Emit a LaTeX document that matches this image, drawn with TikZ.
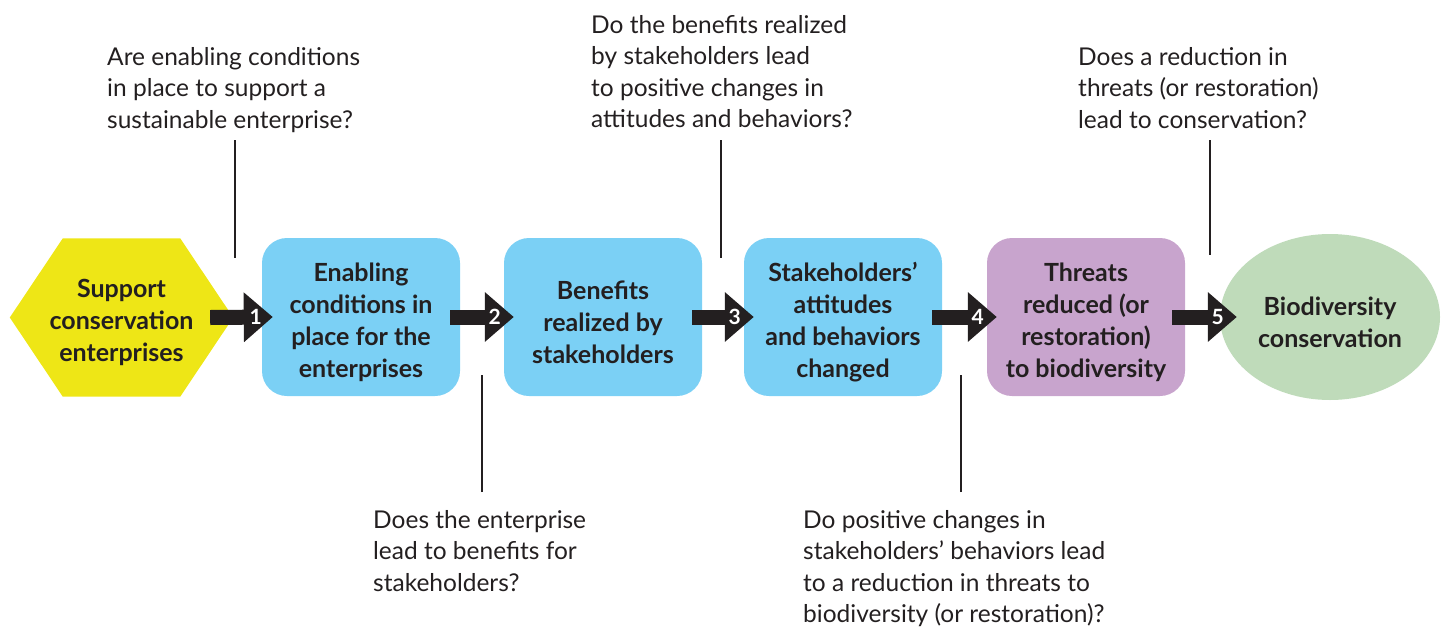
\documentclass[tikz,border=0pt]{standalone}
\usepackage{fontspec}
\setmainfont{Lato}
\usetikzlibrary{shapes.geometric,arrows.meta,backgrounds}
\definecolor{ink}{HTML}{231F20}
\definecolor{hexyellow}{HTML}{EEE616}
\definecolor{boxblue}{HTML}{7BD0F5}
\definecolor{boxpurple}{HTML}{C8A4CD}
\definecolor{ellgreen}{HTML}{BFDBBA}
\begin{document}
\begin{tikzpicture}[x=1pt,y=-1pt,
  stagetext/.style={inner sep=0pt, align=center, text=ink, yshift=-5pt,
    font=\fontsize{25}{32}\selectfont\bfseries},
  stage/.style={rounded corners=25pt, minimum width=198pt, minimum height=158pt, inner sep=0pt},
  question/.style={anchor=north west, inner sep=0pt, align=left, text=ink,
    font=\fontsize{24.5}{31.5}\selectfont},
  flow/.style={draw=ink, line width=15pt,
    -{Triangle[length=29pt,width=48pt,fill=ink]}},
  num/.style={text=white, inner sep=0pt,
    font=\fontsize{21}{21}\selectfont\bfseries},
  leader/.style={draw=ink, line width=2pt}]
\useasboundingbox (0,0) rectangle (1447,629);

% stages
\node[stage, minimum width=223pt,
  label={[stagetext]center:{Support\\conservation\\enterprises}}] (hex) at (121.5,317.5) {};
\begin{scope}[on background layer]
\fill[hexyellow] (hex.west) -- ([xshift=53pt]hex.north west) -- ([xshift=-53pt]hex.north east)
  -- (hex.east) -- ([xshift=-53pt]hex.south east) -- ([xshift=53pt]hex.south west) -- cycle;
\end{scope}
\node[stage, fill=boxblue,
  label={[stagetext]center:{Enabling\\conditions in\\place for the\\enterprises}}] (b1) at (361,317) {};
\node[stage, fill=boxblue,
  label={[stagetext]center:{Benefits\\realized by\\stakeholders}}] (b2) at (603,317) {};
\node[stage, fill=boxblue,
  label={[stagetext]center:{Stakeholders'\\attitudes\\and behaviors\\changed}}] (b3) at (843,317) {};
\node[stage, fill=boxpurple,
  label={[stagetext]center:{Threats\\reduced (or\\restoration)\\to biodiversity}}] (b4) at (1086,317) {};
\node[ellipse, fill=ellgreen, minimum width=220pt, minimum height=166pt, inner sep=0pt,
  label={[stagetext]center:{Biodiversity\\conservation}}] (goal) at (1330,317) {};

% flow arrows
\draw[flow] ([xshift=-23pt]hex.east) -- ([xshift=11pt]b1.west);
\draw[flow] ([xshift=-10pt]b1.east) -- ([xshift=10pt]b2.west);
\draw[flow] ([xshift=-10pt]b2.east) -- ([xshift=10pt]b3.west);
\draw[flow] ([xshift=-10pt]b3.east) -- ([xshift=10pt]b4.west);
\draw[flow] ([xshift=-13pt]b4.east) -- ([xshift=17pt]goal.west);

\node[num] (n1) at ([xshift=-6pt,yshift=0.5pt]b1.west) {1};
\node[num] (n2) at ([xshift=-9pt,yshift=0.5pt]b2.west) {2};
\node[num] (n3) at ([xshift=-9pt,yshift=0.5pt]b3.west) {3};
\node[num] (n4) at ([xshift=-9pt,yshift=0.5pt]b4.west) {4};
\node[num] (n5) at ([xshift=-2pt,yshift=0.5pt]goal.west) {5};

% questions
\node[question] (q1) at (107,47) {Are enabling conditions\\in place to support a\\sustainable enterprise?};
\node[question] (q2) at (591,15) {Do the benefits realized\\by stakeholders lead\\to positive changes in\\attitudes and behaviors?};
\node[question] (q3) at (1078,47) {Does a reduction in\\threats (or restoration)\\lead to conservation?};
\node[question] (q4) at (373,510) {Does the enterprise\\lead to benefits for\\stakeholders?};
\node[question] (q5) at (803,510) {Do positive changes in\\stakeholders' behaviors lead\\to a reduction in threats to\\biodiversity (or restoration)?};

% leader lines
\coordinate (e1) at (235,258);
\coordinate (e2) at (482,375);
\coordinate (e3) at (721,258);
\coordinate (e4) at (961,375);
\coordinate (e5) at (1210,255);
\draw[leader] (e1 |- 0,140) -- (e1);
\draw[leader] (e2 |- 0,492) -- (e2);
\draw[leader] (e3 |- 0,140) -- (e3);
\draw[leader] (e4 |- 0,492) -- (e4);
\draw[leader] (e5 |- 0,140) -- (e5);
\end{tikzpicture}
\end{document}
